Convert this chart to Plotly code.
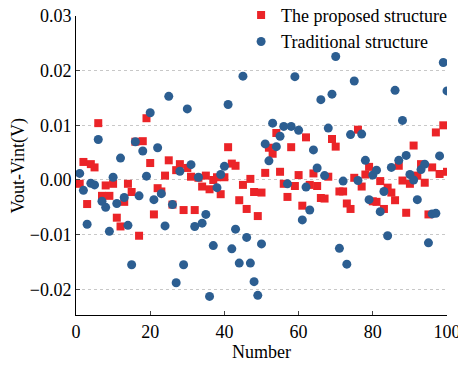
import plotly.graph_objects as go

numbers = list(range(1, 101))

proposed = [
    -0.0007, 0.0033, -0.0044, 0.0029, 0.0023, 0.0104, -0.0029, -0.0010, -0.0029, -0.0007,
    -0.0069, -0.0085, -0.0040, -0.0007, -0.0022, 0.0070, -0.0102, 0.0071, 0.0113, 0.0031,
    -0.0063, -0.0015, -0.0021, 0.0008, 0.0036, -0.0045, 0.0018, 0.0029, -0.0055, 0.0022,
    0.0006, -0.0055, 0.0004, -0.0012, 0.0008, -0.0017, 0.0000, 0.0005, -0.0026, 0.0005,
    0.0060, 0.0030, 0.0026, -0.0037, -0.0009, -0.0053, 0.0002, -0.0022, -0.0066, -0.0023,
    0.0013, 0.0059, 0.0048, 0.0086, 0.0015, -0.0007, -0.0031, 0.0060, -0.0011, 0.0009,
    -0.0047, 0.0078, -0.0009, 0.0012, -0.0011, -0.0033, -0.0034, 0.0006, 0.0075, 0.0061,
    -0.0021, -0.0021, -0.0043, -0.0053, 0.0004, 0.0092, -0.0012, 0.0010, 0.0024, -0.0039,
    -0.0040, -0.0002, -0.0053, -0.0014, -0.0023, -0.0037, 0.0026, -0.0001, -0.0060, -0.0007,
    0.0063, 0.0008, 0.0029, -0.0005, -0.0063, 0.0023, 0.0087, 0.0011, 0.0100, 0.0015,
]

traditional = [
    0.0012, -0.0019, -0.0081, -0.0006, -0.0009, 0.0074, -0.0039, -0.0050, -0.0094, 0.0005,
    -0.0043, 0.0040, -0.0032, -0.0083, -0.0155, 0.0070, -0.0029, 0.0053, 0.0007, 0.0123,
    -0.0036, 0.0059, -0.0025, -0.0084, 0.0153, -0.0045, -0.0188, 0.0016, -0.0155, 0.0130,
    0.0028, -0.0085, 0.0005, -0.0079, -0.0063, -0.0213, -0.0120, -0.0014, 0.0010, 0.0025,
    0.0138, -0.0126, -0.0090, -0.0152, 0.0190, -0.0105, -0.0152, -0.0186, -0.0211, -0.0117,
    0.0066, 0.0035, 0.0104, 0.0061, 0.0080, 0.0098, -0.0007, 0.0098, 0.0189, 0.0091,
    -0.0073, -0.0013, -0.0055, 0.0055, 0.0022, 0.0147, 0.0008, 0.0095, 0.0157, 0.0226,
    -0.0125, -0.0002, -0.0154, 0.0083, 0.0181, -0.0001, 0.0084, 0.0036, -0.0036, 0.0009,
    0.0018, -0.0058, -0.0021, -0.0102, 0.0023, 0.0164, 0.0036, 0.0109, 0.0045, 0.0010,
    0.0000, -0.0036, 0.0019, 0.0029, -0.0115, -0.0062, -0.0061, 0.0044, 0.0215, 0.0163,
]

x_ticks = [0, 20, 40, 60, 80, 100]
y_ticks = [-0.02, -0.01, 0.00, 0.01, 0.02, 0.03]

FONT = "Liberation Serif, Times New Roman, serif"

fig = go.Figure()
fig.add_trace(go.Scatter(
    x=numbers, y=proposed, mode="markers", name="The proposed structure",
    marker=dict(symbol="square", size=8, color="rgb(235,36,40)", line=dict(width=0)),
))
fig.add_trace(go.Scatter(
    x=numbers, y=traditional, mode="markers", name="Traditional structure",
    marker=dict(symbol="circle", size=9, color="rgb(44,94,145)", line=dict(width=0)),
))

fig.update_layout(
    width=458, height=366,
    margin=dict(l=76, r=11.3, t=16, b=51, autoexpand=False),
    paper_bgcolor="white", plot_bgcolor="white",
    font=dict(family=FONT, size=18, color="black"),
    showlegend=True,
    legend=dict(
        xref="paper", yref="paper",
        x=0.445, y=1.064, xanchor="left", yanchor="top",
        bgcolor="rgba(0,0,0,0)", borderwidth=0,
        font=dict(family=FONT, size=18),
        itemwidth=30, tracegroupgap=0,
    ),
    xaxis=dict(
        range=[0, 100], tickvals=x_ticks, ticks="inside", ticklen=4,
        showline=True, linecolor="black", linewidth=1, mirror=False,
        showgrid=False, zeroline=False, automargin=False,
        ticklabeloverflow="allow",
    ),
    yaxis=dict(
        range=[-0.0247, 0.03], tickvals=y_ticks, tickformat=".2f", ticks="inside", ticklen=4,
        showline=True, linecolor="black", linewidth=1, mirror=False,
        showgrid=True, gridcolor="rgb(200,200,200)", griddash="dot", gridwidth=1,
        zeroline=False, automargin=False,
        ticklabeloverflow="allow",
    ),
    annotations=[
        dict(text="Number", xref="paper", yref="paper", x=0.5, y=-0.124,
             xanchor="center", yanchor="middle", showarrow=False, font=dict(size=18)),
        dict(text="Vout-Vint(V)", xref="paper", yref="paper", x=-0.156, y=0.5,
             xanchor="center", yanchor="middle", textangle=-90, showarrow=False,
             font=dict(size=18)),
    ],
)

fig.write_html(
    "out.html",
    config={"displayModeBar": False, "staticPlot": True},
    post_script="document.body.style.margin='0';document.body.style.overflow='hidden';",
)
